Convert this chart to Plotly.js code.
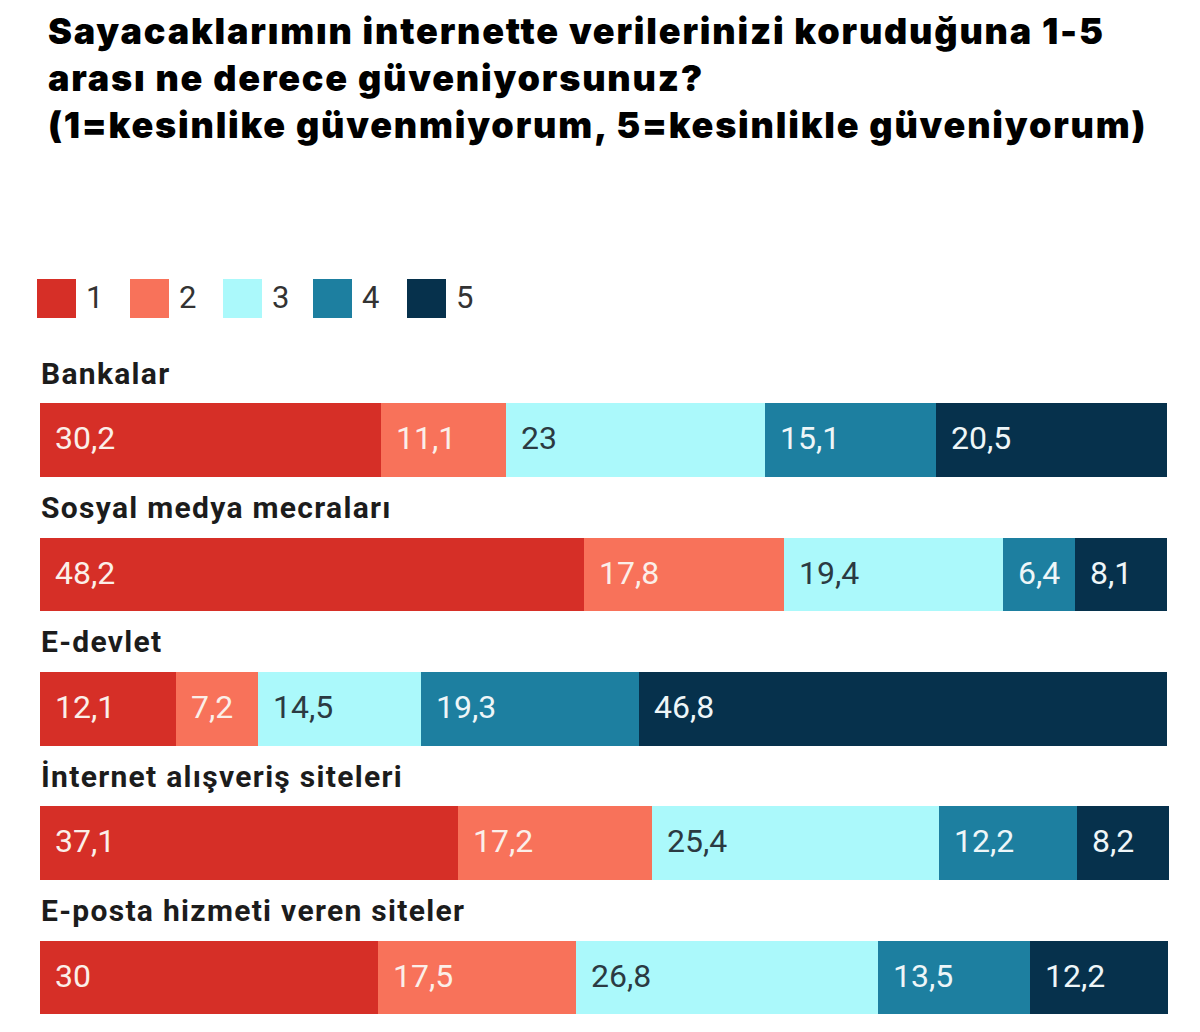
<!DOCTYPE html>
<html>
<head>
<meta charset="utf-8">
<script src="https://cdn.plot.ly/plotly-3.0.1.min.js"></script>
<style>
  html, body { margin: 0; padding: 0; background: #ffffff; }
  #chart { width: 1200px; height: 1032px; }
  /* wide, heavy headline */
  #chart .gtitle { letter-spacing: 1.8px; }
</style>
</head>
<body>
<div id="chart"></div>
<script>
// Survey categories (one bar each) and the five trust levels
const categories = [
  'Bankalar',
  'Sosyal medya mecraları',
  'E-devlet',
  'İnternet alışveriş siteleri',
  'E-posta hizmeti veren siteler'
];
const levels = ['1', '2', '3', '4', '5'];

// Share of answers (%) for each level, in category order
const level1 = [30.2, 48.2, 12.1, 37.1, 30];
const level2 = [11.1, 17.8, 7.2, 17.2, 17.5];
const level3 = [23, 19.4, 14.5, 25.4, 26.8];
const level4 = [15.1, 6.4, 19.3, 12.2, 13.5];
const level5 = [20.5, 8.1, 46.8, 8.2, 12.2];
const series = [level1, level2, level3, level4, level5];

const colors = ['#d62f27', '#f8725a', '#abf9fb', '#1d7fa0', '#06314c'];
const labelColors = ['#fbefe9', '#fbefe9', '#2b3a42', '#eef6f8', '#eef6f8'];

const W = 1200, H = 1032;
const M = { l: 40, r: 31, t: 373, b: 10 };
const plotW = W - M.l - M.r, plotH = H - M.t - M.b;
// pixel -> paper helpers for the hand-made legend
const px = x => (x - M.l) / plotW;
const py = y => (H - M.b - y) / plotH;

const fmt = v => String(v).replace('.', ',');

const traces = series.map((vals, j) => ({
  type: 'bar',
  orientation: 'h',
  name: levels[j],
  x: vals,
  y: categories,
  marker: { color: colors[j], line: { width: 0 } },
  hoverinfo: 'skip',
  showlegend: false
}));

const annotations = [];
const shapes = [];

// value labels, left-aligned inside each segment
categories.forEach((cat, i) => {
  let start = 0;
  series.forEach((vals, j) => {
    annotations.push({
      x: start, y: cat, xref: 'x', yref: 'y',
      text: fmt(vals[i]), showarrow: false,
      xanchor: 'left', yanchor: 'middle', xshift: 13, yshift: 2,
      font: { family: 'Roboto, sans-serif', size: 32, color: labelColors[j] }
    });
    start += vals[i];
  });
  // category name above the bar
  annotations.push({
    x: 0, y: cat, xref: 'x', yref: 'y',
    text: cat, showarrow: false,
    xanchor: 'left', yanchor: 'middle', yshift: 67, xshift: -1,
    font: { family: 'Roboto, sans-serif', size: 30, color: '#1c1c1c', weight: 700 }
  });
});

// legend row
const legendX = [37, 130, 223, 313, 407];
levels.forEach((lv, j) => {
  shapes.push({
    type: 'rect', xref: 'paper', yref: 'paper',
    x0: px(legendX[j]), x1: px(legendX[j] + 39),
    y0: py(318), y1: py(279),
    fillcolor: colors[j], line: { width: 0 }
  });
  annotations.push({
    xref: 'paper', yref: 'paper',
    x: px(legendX[j] + 47), y: py(298),
    text: lv, showarrow: false, xanchor: 'left', yanchor: 'middle',
    font: { family: 'Roboto, sans-serif', size: 31, color: '#333333' }
  });
});

const layout = {
  width: W, height: H,
  margin: M,
  paper_bgcolor: '#ffffff',
  plot_bgcolor: '#ffffff',
  barmode: 'stack',
  bargap: 0.45,
  title: {
    text: 'Sayacaklarımın internette verilerinizi koruduğuna 1-5<br>arası ne derece güveniyorsunuz?<br>(1=kesinlike güvenmiyorum, 5=kesinlikle güveniyorum)',
    xref: 'container', yref: 'container',
    x: 48 / W, xanchor: 'left',
    y: 1 - 44 / H, yanchor: 'top',
    font: { family: 'Inter, Roboto, sans-serif', size: 36, color: '#000000', weight: 900 }
  },
  xaxis: {
    range: [0, 100.1], visible: false, fixedrange: true
  },
  yaxis: {
    type: 'category', range: [4.331, -0.5], visible: false, fixedrange: true
  },
  annotations: annotations,
  shapes: shapes,
  showlegend: false
};

Plotly.newPlot('chart', traces, layout, { displayModeBar: false, staticPlot: true })
  .then(gd => {
    // slightly looser tracking for the category headings, keeping their left edge
    gd.querySelectorAll('.annotation-text').forEach(t => {
      if (!categories.includes(t.textContent)) return;
      const before = t.getBBox().x;
      t.style.letterSpacing = '1.3px';
      const after = t.getBBox().x;
      const x0 = parseFloat(t.getAttribute('x')) || 0;
      t.setAttribute('x', x0 + (before - after));
    });
  });
</script>
</body>
</html>
